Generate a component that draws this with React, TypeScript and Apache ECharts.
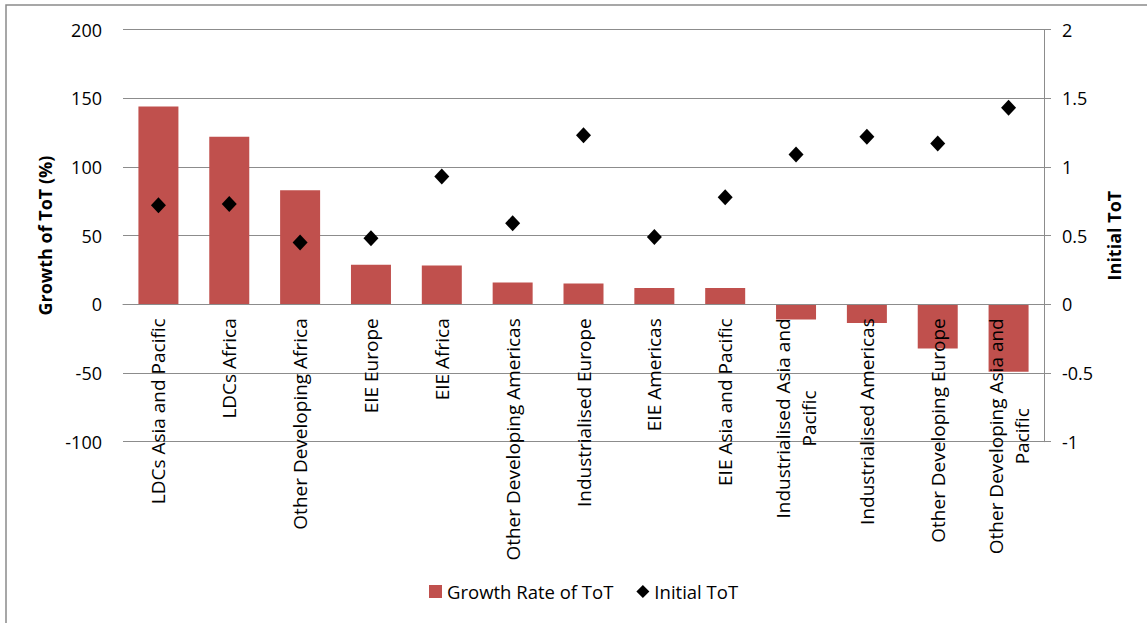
import React, { useEffect, useRef } from "react";
import * as echarts from "echarts";

// Regions, ordered by growth of terms of trade
const categories: string[] = [
  "LDCs Asia and Pacific",
  "LDCs Africa",
  "Other Developing Africa",
  "EIE Europe",
  "EIE Africa",
  "Other Developing Americas",
  "Industrialised Europe",
  "EIE Americas",
  "EIE Asia and Pacific",
  "Industrialised Asia and\nPacific",
  "Industrialised Americas",
  "Other Developing Europe",
  "Other Developing Asia and\nPacific",
];

// Growth rate of terms of trade (%)
const growthRate: number[] = [144, 122, 83, 28.7, 28.2, 15.8, 15.1, 11.9, 11.9, -11.1, -13.6, -32.2, -49];

// Initial terms of trade
const initialToT: number[] = [0.72, 0.73, 0.45, 0.48, 0.93, 0.59, 1.23, 0.49, 0.78, 1.09, 1.22, 1.17, 1.43];

const FONT = "'Open Sans', 'Noto Sans', sans-serif";
const GRID_COLOR = "#8c8c8c";

const GRID_TOP = 29.5;
const GRID_BOTTOM = 181.3;
const CHART_H = 623;
// pixel distance from the bottom of the plot up to the zero line (1/3 of the plot height)
const ZERO_OFFSET = (CHART_H - GRID_TOP - GRID_BOTTOM) / 3;

export default function App() {
  const ref = useRef<HTMLDivElement>(null);

  useEffect(() => {
    if (!ref.current) return;
    const chart = echarts.init(ref.current, undefined, { renderer: "svg" });
    chart.setOption({
      animation: false,
      backgroundColor: "#ffffff",
      textStyle: { fontFamily: FONT, color: "#000" },
      graphic: [
        {
          type: "rect",
          shape: { x: 6, y: 5, width: 1300, height: 800 },
          style: { fill: "none", stroke: "#8a8a8a", lineWidth: 1.5 },
          silent: true,
        },
      ],
      grid: {
        left: 123,
        right: 103,
        top: GRID_TOP,
        bottom: GRID_BOTTOM,
        containLabel: false,
        outerBoundsMode: "none",
      },
      legend: {
        left: 429,
        top: 582,
        padding: 0,
        itemWidth: 13,
        itemHeight: 13,
        itemGap: 23,
        textStyle: { fontFamily: FONT, fontSize: 18.5, color: "#000" },
        data: [
          { name: "Growth Rate of ToT", icon: "rect" },
          { name: "Initial ToT", icon: "diamond", itemStyle: { color: "#000000", opacity: 1 } },
        ],
      },
      xAxis: {
        type: "category",
        data: categories,
        boundaryGap: true,
        z: 5,
        axisLine: { onZero: true, onZeroAxisIndex: 0, lineStyle: { color: GRID_COLOR, width: 1 } },
        axisTick: { show: false },
        axisLabel: {
          interval: 0,
          rotate: 90,
          // labels hang just below the zero line
          margin: 14 - ZERO_OFFSET,
          formatter: (v: string) => v.split("\n").map((l) => `{c|${l}}`).join("\n"),
          rich: {
            c: { align: "center", fontFamily: FONT, fontSize: 19, color: "#000", lineHeight: 26 },
          },
        },
      },
      yAxis: [
        {
          type: "value",
          min: -100,
          max: 200,
          interval: 50,
          name: "Growth of ToT (%)",
          nameLocation: "middle",
          nameRotate: 90,
          nameGap: 66,
          nameTextStyle: { fontFamily: FONT, fontSize: 18, fontWeight: "bold", color: "#000" },
          axisLine: { show: false },
          axisTick: { show: false },
          axisLabel: { margin: 21, fontFamily: FONT, fontSize: 18, color: "#000" },
          splitLine: { show: true, lineStyle: { color: GRID_COLOR, width: 1 } },
        },
        {
          type: "value",
          position: "right",
          min: -1,
          max: 2,
          interval: 0.5,
          name: "Initial ToT",
          nameLocation: "middle",
          nameRotate: 90,
          nameGap: 61,
          nameTextStyle: { fontFamily: FONT, fontSize: 18, fontWeight: "bold", color: "#000" },
          axisLine: { show: true, lineStyle: { color: GRID_COLOR, width: 1 } },
          axisTick: { show: true, inside: false, length: 7, lineStyle: { color: GRID_COLOR } },
          axisLabel: { margin: 18, fontFamily: FONT, fontSize: 18, color: "#000" },
          splitLine: { show: false },
        },
      ],
      series: [
        {
          name: "Growth Rate of ToT",
          type: "bar",
          yAxisIndex: 0,
          data: growthRate,
          barWidth: 40,
          itemStyle: { color: "#C0504D" },
          z: 2,
        },
        {
          name: "Initial ToT",
          type: "scatter",
          yAxisIndex: 1,
          data: initialToT,
          symbol: "diamond",
          symbolSize: [15, 16],
          itemStyle: { color: "#000000", opacity: 1 },
          z: 3,
        },
      ],
    });
    return () => chart.dispose();
  }, []);

  return (
    <div
      ref={ref}
      style={{ position: "absolute", left: 0, top: 0, width: 1147, height: 623 }}
    />
  );
}
